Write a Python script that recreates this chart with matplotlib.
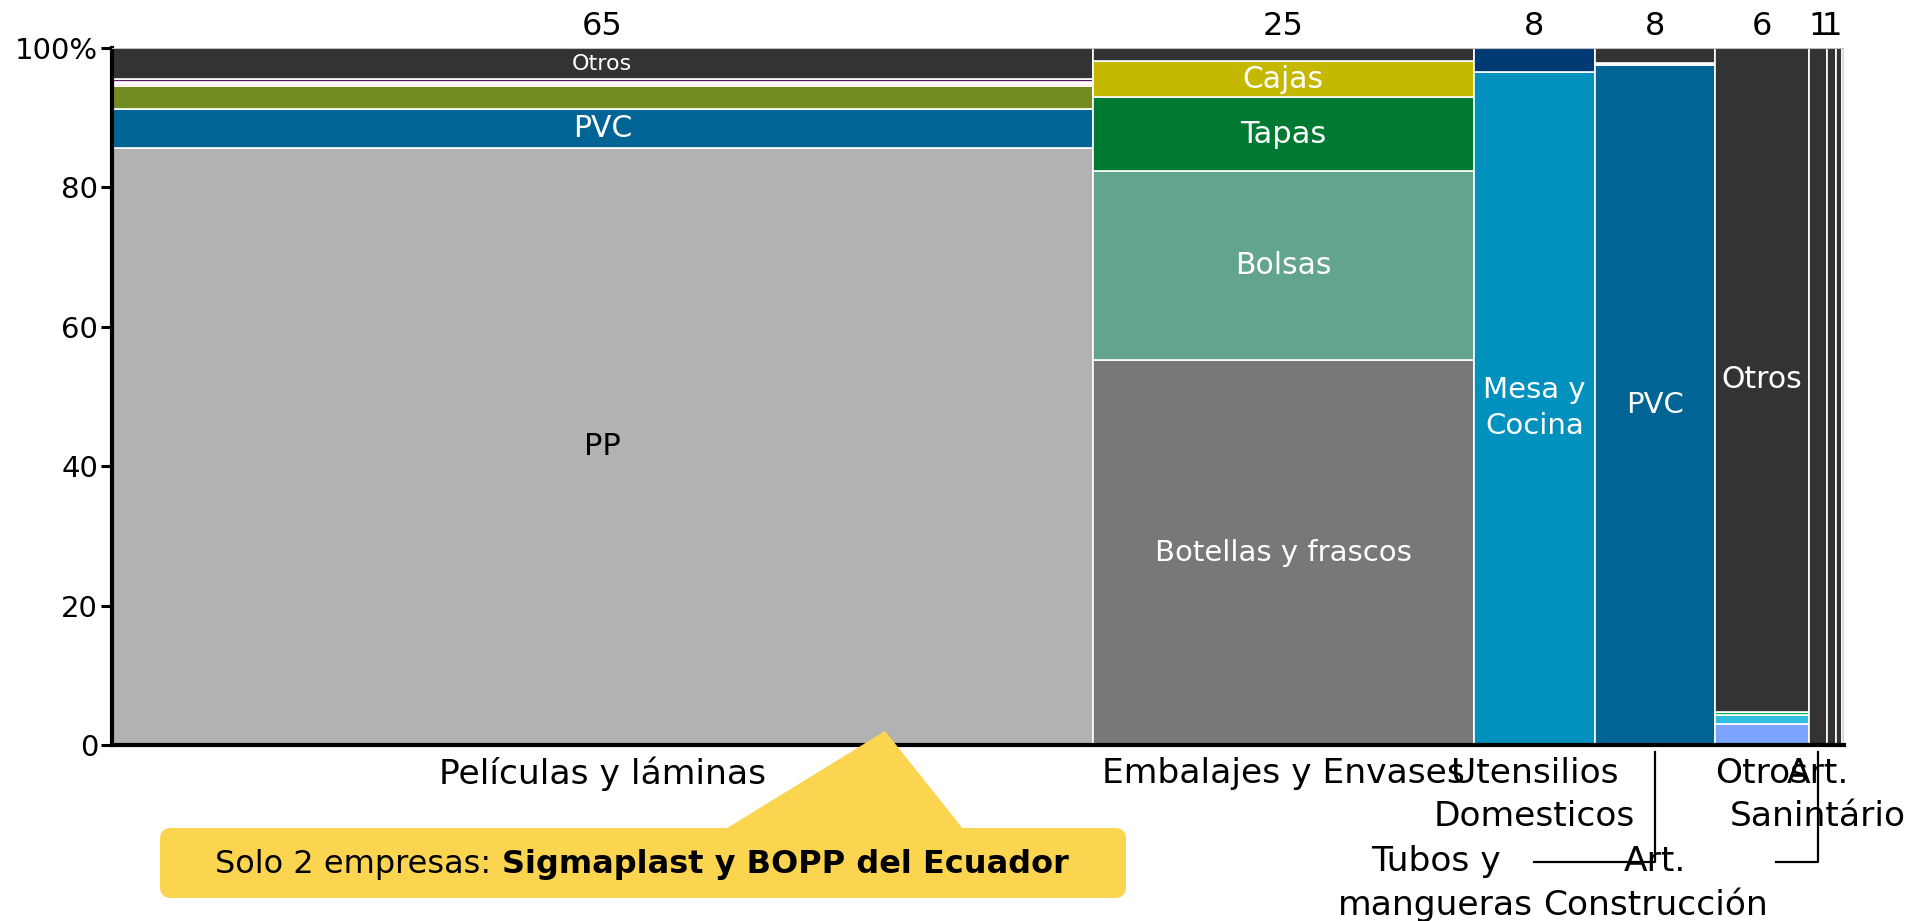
import numpy as np
import matplotlib
matplotlib.use("Agg")
import matplotlib.pyplot as plt
from matplotlib.patches import FancyBboxPatch, Polygon
import matplotlib.transforms as mtransforms

plt.rcParams["font.family"] = ["DejaVu Sans"]

# ---------- data ----------
col_names = ["Películas y láminas", "Embalajes y Envases", "Utensilios\nDomesticos",
             "Art.\nConstrucción", "Otros", "Art.\nSanintário", "Tubos y\nmangueras", "", ""]
col_widths = [64.6, 25.1, 8.0, 7.9, 6.2, 1.2, 0.55, 0.4, 0.15]
top_labels = ["65", "25", "8", "8", "6", "1", "1", "", ""]

# segment shares (%) per column, bottom to top
seg_values = [
    [85.7, 5.5, 3.3, 0.35, 0.3, 0.4, 4.45],
    [55.2, 27.1, 10.6, 5.2, 1.9],
    [96.6, 3.4],
    [97.6, 0.3, 2.1],
    [3.0, 1.3, 0.5, 95.2],
    [100],
    [100],
    [100],
    [100],
]
seg_labels = [
    ["PP", "PVC", "", "", "", "", "Otros"],
    ["Botellas y frascos", "Bolsas", "Tapas", "Cajas", ""],
    ["Mesa y\nCocina", ""],
    ["PVC", "", ""],
    ["", "", "", "Otros"],
    [""], [""], [""], [""],
]
seg_colors = [
    ["#b2b2b2", "#006595", "#728c22", "#e3a85e", "#f2d9b8", "#5c1a5e", "#333333"],
    ["#787878", "#63a48c", "#007a33", "#c4b800", "#333333"],
    ["#0091bf", "#003a75"],
    ["#006494", "#e6e6e6", "#333333"],
    ["#7da4ff", "#30bfe0", "#00b04f", "#333333"],
    ["#333333"], ["#333333"], ["#333333"], ["#333333"],
]
seg_font = [
    [22, 21.5, 0, 0, 0, 0, 16],
    [21, 21.5, 22, 21.5, 0],
    [21, 0],
    [21, 0, 0],
    [0, 0, 0, 21.5],
    [0], [0], [0], [0],
]
callout_plain = "Solo 2 empresas: "
callout_bold = "Sigmaplast y BOPP del Ecuador"

# ---------- figure ----------
W, H = 1931, 921
fig = plt.figure(figsize=(W / 100, H / 100), dpi=100)
ax = fig.add_axes([112 / W, 1 - 745 / H, 1732 / W, 697 / H])

widths = np.asarray(col_widths, dtype=float)
lefts = np.concatenate([[0], np.cumsum(widths)[:-1]])
centers = lefts + widths / 2
total = widths.sum()

for i in range(len(widths)):
    bottom = 0.0
    for v, c, lab, fs in zip(seg_values[i], seg_colors[i], seg_labels[i], seg_font[i]):
        ax.bar(lefts[i], v, width=widths[i], bottom=bottom, align="edge",
               color=c, edgecolor="white", linewidth=1.2)
        if lab:
            ax.text(centers[i], bottom + v / 2, lab, ha="center", va="center",
                    fontsize=fs, color="black" if c == "#b2b2b2" else "white",
                    linespacing=1.35)
        bottom += v

ax.set_xlim(0, total)
ax.set_ylim(0, 100)
ax.axhline(100, color="#c0c0c0", linewidth=1.5, zorder=5)

# column width labels on top
top_tr = mtransforms.blended_transform_factory(ax.transData, ax.transAxes)
for cx, lab in zip(centers, top_labels):
    if lab:
        ax.text(cx, 1.031, lab, transform=top_tr, ha="center", va="center", fontsize=23)

# axes styling
for s in ["top", "right"]:
    ax.spines[s].set_visible(False)
ax.spines["left"].set_linewidth(3)
ax.spines["bottom"].set_linewidth(3)
ax.set_xticks([])
ax.set_yticks([0, 20, 40, 60, 80, 100])
ax.set_yticklabels(["0", "20", "40", "60", "80", "100%"])
ax.tick_params(axis="y", length=8, width=2.2, labelsize=21, pad=2)

# category labels below (with the leader-line layout of the original)
ROW1, ROW12, ROW34 = -0.041, -0.0717, -0.1987
label_pos = {  # column index -> (x in data units, axes-y of label centre)
    0: (centers[0], ROW1),
    1: (centers[1], ROW1),
    2: (centers[2], ROW12),
    3: (centers[3], ROW34),
    4: (centers[4], ROW1),
    5: (centers[5], ROW12),
    6: (87.2, ROW34),
}
for i, (lx, ly) in label_pos.items():
    ax.text(lx, ly, col_names[i], transform=top_tr, ha="center", va="center",
            fontsize=24.8, linespacing=1.42, clip_on=False)

# leader lines
ax.plot([centers[3], centers[3], 93.7], [-0.01, -0.168, -0.168], transform=top_tr,
        color="black", linewidth=1.6, clip_on=False)
ax.plot([centers[5], centers[5], 109.6], [-0.01, -0.168, -0.168], transform=top_tr,
        color="black", linewidth=1.6, clip_on=False)

# ---------- callout (pixel overlay) ----------
ov = fig.add_axes([0, 0, 1, 1], zorder=10)
ov.set_xlim(0, W)
ov.set_ylim(H, 0)
ov.axis("off")
ov.patch.set_alpha(0)
yellow = "#fbd54f"
ov.add_patch(Polygon([[724, 830], [885, 731], [964, 830]], closed=True,
                     facecolor=yellow, edgecolor="none"))
ov.add_patch(FancyBboxPatch((160, 828), 966, 70,
                            boxstyle="round,pad=0,rounding_size=11",
                            facecolor=yellow, edgecolor="none"))

fig.canvas.draw()
rend = fig.canvas.get_renderer()
FS = 23
probe = ov.text(0, 0, callout_plain + "x", fontsize=FS)
probe_x = ov.text(0, 0, "x", fontsize=FS)
w1 = probe.get_window_extent(rend).width - probe_x.get_window_extent(rend).width
probe.remove()
probe_x.remove()
pb = ov.text(0, 0, callout_bold, fontsize=FS, fontweight="bold")
w2 = pb.get_window_extent(rend).width
pb.remove()
x0 = 642 - (w1 + w2) / 2
ov.text(x0, 864, callout_plain, fontsize=FS, ha="left", va="center")
ov.text(x0 + w1, 864, callout_bold, fontsize=FS, fontweight="bold", ha="left", va="center")

fig.savefig("out.png", dpi=100)
